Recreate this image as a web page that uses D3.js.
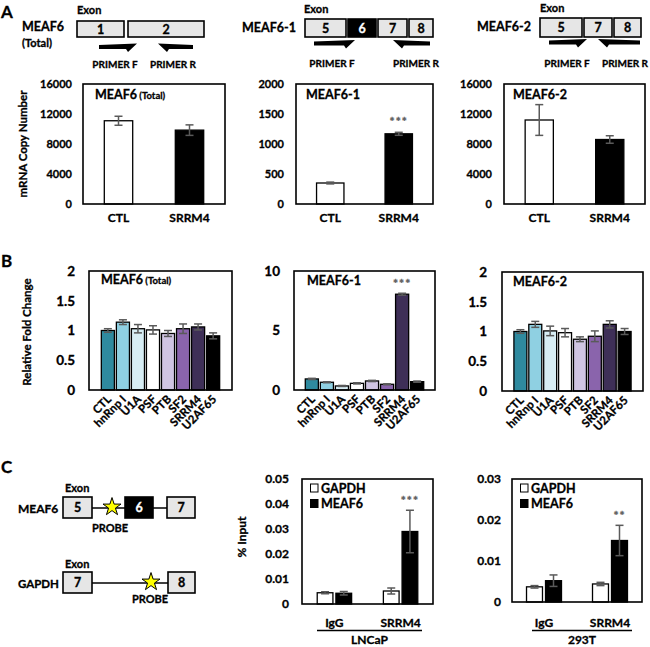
<!DOCTYPE html>
<html><head><meta charset="utf-8">
<script src="https://cdn.jsdelivr.net/npm/d3@7"></script>
<style>
body{margin:0;background:#fff}
text{font-family:Lato,"Open Sans",sans-serif;font-weight:bold;fill:#000;stroke:#000;stroke-width:0.3px}
</style>
</head><body>
<svg id="fig" width="650" height="647"></svg>
<script>
// ---------------- DATA ----------------
// Panel A: mRNA copy number
const aCategories = ["CTL", "SRRM4"];
const aTotalValues = [11100, 9850];
const aTotalErrors = [600, 700];
const a1Values = [350, 1170];
const a1Errors = [15, 25];
const a2Values = [11200, 8600];
const a2Errors = [2050, 500];
const aTicks16k = [0, 4000, 8000, 12000, 16000];
const aTickLabels16k = ["0", "4000", "8000", "12000", "16000"];
const aTicks2k = [0, 500, 1000, 1500, 2000];
const aTickLabels2k = ["0", "500", "1000", "1500", "2000"];
const aFills = ["#ffffff", "#000000"];

// Panel B: relative fold change
const bCategories = ["CTL", "hnRnp I", "U1A", "PSF", "PTB", "SF2", "SRRM4", "U2AF65"];
const bColors = ["#2f8a9f", "#8fd0e2", "#d7edf4", "#ffffff", "#d0c5e2", "#8a64ac", "#3e2f57", "#000000"];
const bTotalValues = [1.00, 1.14, 1.03, 1.01, 0.95, 1.03, 1.06, 0.91];
const bTotalErrors = [0.03, 0.04, 0.07, 0.07, 0.05, 0.08, 0.05, 0.05];
const b1Values = [0.93, 0.65, 0.34, 0.56, 0.76, 0.48, 8.05, 0.70];
const b1Errors = [0.05, 0.04, 0.04, 0.05, 0.05, 0.04, 0.08, 0.05];
const b2Values = [1.00, 1.12, 1.01, 0.98, 0.87, 0.92, 1.12, 1.00];
const b2Errors = [0.03, 0.05, 0.08, 0.07, 0.04, 0.09, 0.06, 0.05];
const bTicks2 = [0, 0.5, 1, 1.5, 2];
const bTickLabels2 = ["0", "0.5", "1", "1.5", "2"];
const bTicks10 = [0, 5, 10];
const bTickLabels10 = ["0", "5", "10"];

// Panel C: % input (ChIP)
const cGroups = ["IgG", "SRRM4"];
const cSeries = ["GAPDH", "MEAF6"];
const cSeriesFills = ["#ffffff", "#000000"];
const cLncapGapdh = [0.0045, 0.0052];
const cLncapGapdhErr = [0.0004, 0.0012];
const cLncapMeaf6 = [0.0043, 0.0290];
const cLncapMeaf6Err = [0.0007, 0.0085];
const c293tGapdh = [0.0037, 0.0044];
const c293tGapdhErr = [0.0003, 0.0004];
const c293tMeaf6 = [0.0052, 0.0150];
const c293tMeaf6Err = [0.0014, 0.0037];
const cTicksLncap = [0, 0.01, 0.02, 0.03, 0.04, 0.05];
const cTickLabelsLncap = ["0", "0.01", "0.02", "0.03", "0.04", "0.05"];
const cTicks293t = [0, 0.01, 0.02, 0.03];
const cTickLabels293t = ["0", "0.01", "0.02", "0.03"];

// ---------------- DRAWING ----------------
const svg = d3.select("#fig");
svg.append("rect").attr("width", 650).attr("height", 647).attr("fill", "#fff");
const ERR = "#5a5a5a";

function yAxis(g, y, left, ticks, labels, pad, fs) {
  const ax = g.append("g").attr("transform", `translate(${left},0)`)
    .call(d3.axisLeft(y).tickValues(ticks).tickSize(0).tickPadding(pad)
      .tickFormat((d, i) => labels[i]));
  ax.select(".domain").remove();
  ax.selectAll("text").style("font-size", fs + "px");
}

function errBars(g, xs, vals, errs, y, cap) {
  vals.forEach((v, i) => {
    const cx = xs[i], e = errs[i];
    g.append("line").attr("x1", cx).attr("x2", cx).attr("y1", y(v + e)).attr("y2", y(v - e))
      .attr("stroke", ERR).attr("stroke-width", 1.5);
    [v + e, v - e].forEach(t => g.append("line").attr("x1", cx - cap).attr("x2", cx + cap)
      .attr("y1", y(t)).attr("y2", y(t)).attr("stroke", ERR).attr("stroke-width", 1.5));
  });
}

function sigText(g, x, y, txt) {
  g.append("text").attr("x", x).attr("y", y).attr("text-anchor", "middle")
    .style("font-size", "12px").style("fill", ERR).style("stroke", ERR).style("letter-spacing", "1px").text(txt);
}

function simpleChart(c) {
  const g = svg.append("g");
  const x = d3.scaleBand().domain(c.cats).range([c.left, c.right]).paddingInner(c.pi).paddingOuter(c.po);
  const y = d3.scaleLinear().domain([0, c.max]).range([c.bottom, c.top]);
  yAxis(g, y, c.left, c.ticks, c.labels, c.tickPad, c.tickFont);
  g.selectAll("rect.bar").data(c.values).enter().append("rect")
    .attr("x", (d, i) => x(c.cats[i])).attr("width", x.bandwidth())
    .attr("y", d => y(d)).attr("height", d => c.bottom - y(d))
    .attr("fill", (d, i) => c.fills[i]).attr("stroke", "#000").attr("stroke-width", 1.3);
  const cx = c.cats.map(k => x(k) + x.bandwidth() / 2);
  errBars(g, cx, c.values, c.errors, y, c.cap);
  g.append("rect").attr("x", c.left).attr("y", c.top).attr("width", c.right - c.left)
    .attr("height", c.bottom - c.top).attr("fill", "none").attr("stroke", "#000").attr("stroke-width", 1.6);
  const t = g.append("text").attr("x", c.titleX).attr("y", c.titleY).style("font-size", c.titleFont + "px").text(c.title);
  if (c.titleSub) t.append("tspan").style("font-size", (c.titleFont - 3) + "px").text(" " + c.titleSub);
  if (c.sig) {
    const i = c.sig.index;
    sigText(g, cx[i], y(c.values[i] + c.errors[i]) - c.sig.gap, c.sig.text);
  }
  if (c.rotate) {
    c.cats.forEach((k, i) => {
      g.append("text").attr("transform", `translate(${cx[i] + 4},${c.bottom + 10}) rotate(-45)`)
        .attr("text-anchor", "end").style("font-size", "11.5px").text(k);
    });
  } else {
    c.cats.forEach((k, i) => {
      g.append("text").attr("x", cx[i]).attr("y", c.bottom + 18).attr("text-anchor", "middle")
        .style("font-size", "12px").text(k);
    });
  }
  return g;
}

function groupedChart(c) {
  const g = svg.append("g");
  const x0 = d3.scaleBand().domain(c.groups).range([c.left, c.right]).paddingInner(c.pi).paddingOuter(c.po);
  const x1 = d3.scaleBand().domain(cSeries).range([0, x0.bandwidth()]).paddingInner(0.16);
  const y = d3.scaleLinear().domain([0, c.max]).range([c.bottom, c.top]);
  yAxis(g, y, c.left, c.ticks, c.labels, c.tickPad, 12);
  c.series.forEach((s, si) => {
    const xs = c.groups.map(k => x0(k) + x1(cSeries[si]));
    s.values.forEach((v, i) => {
      g.append("rect").attr("x", xs[i]).attr("width", x1.bandwidth()).attr("y", y(v))
        .attr("height", c.bottom - y(v)).attr("fill", cSeriesFills[si]).attr("stroke", "#000").attr("stroke-width", 1.3);
    });
    errBars(g, xs.map(v => v + x1.bandwidth() / 2), s.values, s.errors, y, 4);
  });
  g.append("rect").attr("x", c.left).attr("y", c.top).attr("width", c.right - c.left)
    .attr("height", c.bottom - c.top).attr("fill", "none").attr("stroke", "#000").attr("stroke-width", 1.6);
  cSeries.forEach((s, i) => {
    const ly = c.top + 5 + i * 15.5;
    g.append("rect").attr("x", c.left + 8.5).attr("y", ly).attr("width", 7.5).attr("height", 8)
      .attr("fill", cSeriesFills[i]).attr("stroke", "#000").attr("stroke-width", 1);
    g.append("text").attr("x", c.left + 19).attr("y", ly + 8.5).style("font-size", "12.5px").text(s);
  });
  const m = c.series[1];
  const sx = x0(c.groups[1]) + x1(cSeries[1]) + x1.bandwidth() / 2;
  sigText(g, sx, y(m.values[1] + m.errors[1]) - 5, c.sig);
  c.groups.forEach(k => {
    g.append("text").attr("x", x0(k) + x0.bandwidth() / 2).attr("y", 627).attr("text-anchor", "middle")
      .style("font-size", "12px").text(k);
  });
  g.append("line").attr("x1", c.lineX1).attr("x2", c.lineX2).attr("y1", 630.5).attr("y2", 630.5)
    .attr("stroke", "#000").attr("stroke-width", 1.5);
  g.append("text").attr("x", (c.lineX1 + c.lineX2) / 2).attr("y", 643.5).attr("text-anchor", "middle")
    .style("font-size", "12px").text(c.cell);
}

function rotText(x, y, txt, fs) {
  svg.append("text").attr("transform", `translate(${x},${y}) rotate(-90)`).attr("text-anchor", "middle")
    .style("font-size", fs + "px").text(txt);
}

// Panel letters
svg.append("text").attr("x", 1).attr("y", 18).style("font-size", "17px").text("A");
svg.append("text").attr("x", 1).attr("y", 267).style("font-size", "17px").text("B");
svg.append("text").attr("x", 1).attr("y", 473).style("font-size", "17px").text("C");

// ---------- Panel A charts ----------
rotText(27, 144, "mRNA Copy Number", 11.5);
simpleChart({cats: aCategories, values: aTotalValues, errors: aTotalErrors, fills: aFills,
  left: 83, right: 225, top: 84, bottom: 204, max: 16000, ticks: aTicks16k, labels: aTickLabels16k,
  tickPad: 11, tickFont: 11, pi: 0.6, po: 0.3, cap: 4, title: "MEAF6", titleSub: "(Total)",
  titleX: 95, titleY: 99, titleFont: 12.5});
simpleChart({cats: aCategories, values: a1Values, errors: a1Errors, fills: aFills,
  left: 296, right: 433, top: 84, bottom: 204, max: 2000, ticks: aTicks2k, labels: aTickLabels2k,
  tickPad: 12, tickFont: 11, pi: 0.6, po: 0.3, cap: 4, title: "MEAF6-1",
  titleX: 306, titleY: 99, titleFont: 12.5, sig: {index: 1, text: "***", gap: 6}});
simpleChart({cats: aCategories, values: a2Values, errors: a2Errors, fills: aFills,
  left: 504, right: 645, top: 84, bottom: 204, max: 16000, ticks: aTicks16k, labels: aTickLabels16k,
  tickPad: 12, tickFont: 11, pi: 0.6, po: 0.3, cap: 4, title: "MEAF6-2",
  titleX: 513, titleY: 99, titleFont: 12.5});

// ---------- Panel B charts ----------
rotText(31, 332, "Relative Fold Change", 11.5);
simpleChart({cats: bCategories, values: bTotalValues, errors: bTotalErrors, fills: bColors,
  left: 89, right: 232, top: 271, bottom: 390, max: 2, ticks: bTicks2, labels: bTickLabels2,
  tickPad: 14, tickFont: 13.5, pi: 0.13, po: 0.82, cap: 4, title: "MEAF6", titleSub: "(Total)",
  titleX: 101, titleY: 284, titleFont: 12.5, rotate: true});
simpleChart({cats: bCategories, values: b1Values, errors: b1Errors, fills: bColors,
  left: 294, right: 435, top: 271, bottom: 390, max: 10, ticks: bTicks10, labels: bTickLabels10,
  tickPad: 14, tickFont: 13.5, pi: 0.13, po: 0.75, cap: 4, title: "MEAF6-1",
  titleX: 307, titleY: 285, titleFont: 12.5, rotate: true, sig: {index: 6, text: "***", gap: 5}});
simpleChart({cats: bCategories, values: b2Values, errors: b2Errors, fills: bColors,
  left: 502, right: 643, top: 272, bottom: 391, max: 2, ticks: bTicks2, labels: bTickLabels2,
  tickPad: 15, tickFont: 13.5, pi: 0.13, po: 0.8, cap: 4, title: "MEAF6-2",
  titleX: 513, titleY: 286, titleFont: 12.5, rotate: true});

// ---------- Panel C charts ----------
rotText(246, 537, "% Input", 12);
groupedChart({groups: cGroups, left: 302, right: 433, top: 479, bottom: 604, max: 0.05,
  ticks: cTicksLncap, labels: cTickLabelsLncap, tickPad: 13, pi: 0.48, po: 0.23,
  series: [{values: cLncapGapdh, errors: cLncapGapdhErr}, {values: cLncapMeaf6, errors: cLncapMeaf6Err}],
  sig: "***", lineX1: 317, lineX2: 422, cell: "LNCaP"});
groupedChart({groups: cGroups, left: 512, right: 642, top: 479, bottom: 602, max: 0.03,
  ticks: cTicks293t, labels: cTickLabels293t, tickPad: 11, pi: 0.47, po: 0.22,
  series: [{values: c293tGapdh, errors: c293tGapdhErr}, {values: c293tMeaf6, errors: c293tMeaf6Err}],
  sig: "**", lineX1: 532, lineX2: 632, cell: "293T"});

// ---------- Diagrams ----------
function exonBox(x1, x2, y1, y2, lab, dark) {
  svg.append("rect").attr("x", x1).attr("y", y1).attr("width", x2 - x1).attr("height", y2 - y1)
    .attr("fill", dark ? "#000" : "#e6e6e6").attr("stroke", "#000").attr("stroke-width", 1.6);
  svg.append("text").attr("x", (x1 + x2) / 2).attr("y", (y1 + y2) / 2 + 4.5).attr("text-anchor", "middle")
    .style("font-size", "12.5px").style("fill", dark ? "#fff" : "#000").style("stroke", dark ? "#fff" : "#000").text(lab);
}
function label(x, y, txt, fs, anchor) {
  svg.append("text").attr("x", x).attr("y", y).attr("text-anchor", anchor || "start").style("font-size", fs + "px").text(txt);
}
function primerF(xs, xt, y) {
  svg.append("path").attr("d", `M${xs},${y - 2}L${xt},${y - 3.5}L${xt - 9},${y + 5}L${xt - 11},${y + 2}L${xs},${y + 2}Z`).attr("fill", "#000");
}
function primerR(xt, xe, y) {
  svg.append("path").attr("d", `M${xe},${y - 2}L${xt},${y - 3.5}L${xt + 9},${y + 5}L${xt + 11},${y + 2}L${xe},${y + 2}Z`).attr("fill", "#000");
}

// A1
label(77, 14, "Exon", 11);
label(22, 31, "MEAF6", 12.5);
label(22, 47, "(Total)", 11);
exonBox(77, 124, 21, 37, "1");
exonBox(128, 204, 21, 37, "2");
primerF(99, 137, 47);
primerR(158, 193, 47);
label(115, 68, "PRIMER F", 10, "middle");
label(173, 68, "PRIMER R", 10, "middle");
// A2
label(304, 13, "Exon", 11);
label(242, 32, "MEAF6-1", 12.5);
exonBox(305, 346, 19, 37, "5");
exonBox(348, 376, 19, 37, "6", true);
exonBox(378, 407, 19, 37, "7");
exonBox(409, 433, 19, 37, "8");
primerF(314, 355, 43.5);
primerR(393, 430, 43.5);
label(332, 67, "PRIMER F", 10, "middle");
label(416, 67, "PRIMER R", 10, "middle");
// A3
label(540, 12, "Exon", 11);
label(477, 31, "MEAF6-2", 12.5);
exonBox(540, 582, 18, 37, "5");
exonBox(584, 612, 18, 37, "7");
exonBox(614, 641, 18, 37, "8");
primerF(549, 587, 42.5);
primerR(598, 640, 42.5);
label(567, 67, "PRIMER F", 10, "middle");
label(625, 67, "PRIMER R", 10, "middle");

// C diagrams
const star = d3.symbol().type(d3.symbolStar).size(100);
function line(x1, x2, y) {
  svg.append("line").attr("x1", x1).attr("x2", x2).attr("y1", y).attr("y2", y).attr("stroke", "#000").attr("stroke-width", 1.6);
}
label(65, 492, "Exon", 11);
label(18, 513, "MEAF6", 12);
line(92, 167, 508);
exonBox(63, 92, 497, 518, "5");
exonBox(125, 153, 497, 518, "6", true);
exonBox(167, 195, 497, 518, "7");
svg.append("path").attr("d", star).attr("transform", "translate(112,507)").attr("fill", "#ffff00").attr("stroke", "#000").attr("stroke-width", 1);
label(110, 532, "PROBE", 11, "middle");

label(65, 568, "Exon", 11);
label(18, 588, "GAPDH", 11.5);
line(92, 168, 583);
exonBox(63, 92, 572, 593, "7");
exonBox(168, 195, 572, 593, "8");
svg.append("path").attr("d", star).attr("transform", "translate(151,582)").attr("fill", "#ffff00").attr("stroke", "#000").attr("stroke-width", 1);
label(150, 603, "PROBE", 11, "middle");
</script>
</body></html>
